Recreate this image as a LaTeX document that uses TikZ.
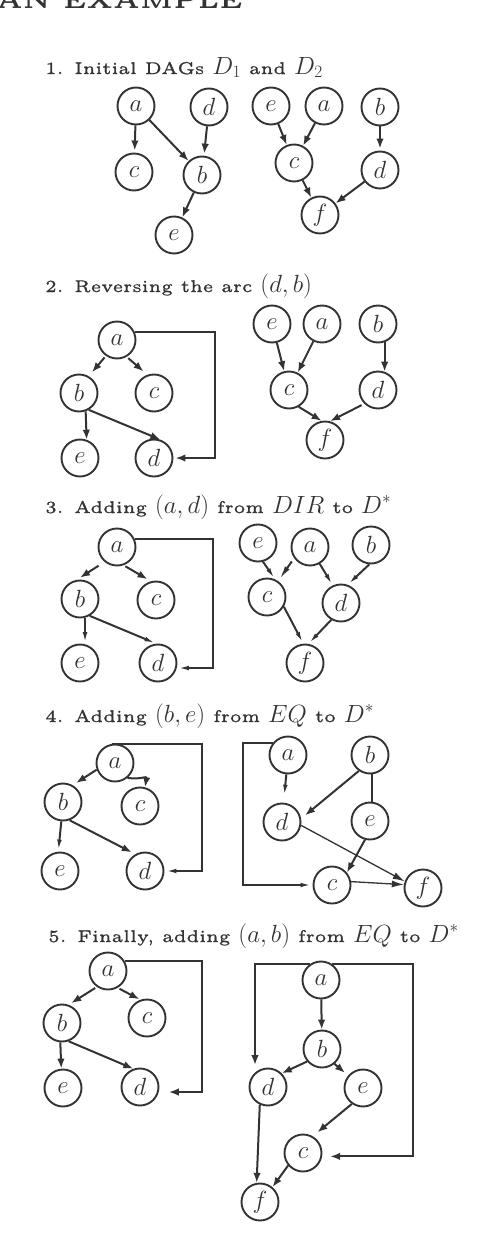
\documentclass[tikz,border=0pt]{standalone}
\usepackage{fontspec}
\usetikzlibrary{arrows.meta}
\newfontfamily\ttlf{lmroman5-regular.otf}[FakeBold=1.1]
\newfontfamily\hdrf{lmroman5-bold.otf}
\definecolor{ink}{HTML}{333333}
\newcommand\mth[1]{{\fontsize{27}{27}\selectfont$#1$}}
\begin{document}
\begin{tikzpicture}[x=1pt,y=-1pt,
  v/.style={circle,draw=ink,line width=1.9pt,minimum size=37pt,inner sep=0pt,text=ink,font=\fontsize{23}{23}\selectfont},
  arr/.style={draw=ink,line width=2pt,-{Latex[length=10pt,width=7.5pt]}},
  tp/.style={draw=ink,line width=2pt,-{Latex[length=12pt,width=4.5pt]}},
  ln/.style={draw=ink,line width=2pt},
  ttl/.style={anchor=base west,inner sep=0pt,text=ink,font=\ttlf\fontsize{17}{19}\selectfont}]
\useasboundingbox[fill=white] (0,0) rectangle (496,1250);
% header
\node[anchor=base west,inner sep=0pt,text=ink,font=\hdrf\fontsize{24}{24}\selectfont] (hdr) at (-4,9) {AN EXAMPLE};
% titles
\node[ttl] (t1) at (45,74) {1. Initial DAGs \mth{D_1} and \mth{D_2}};
\node[ttl] (t2) at (45,292) {2. Reversing the arc \mth{(d,b)}};
\node[ttl] (t3) at (45,513) {3. Adding \mth{(a,d)} from \mth{DIR} to \mth{D^*}};
\node[ttl] (t4) at (45,722) {4. Adding \mth{(b,e)} from \mth{EQ} to \mth{D^*}};
\node[ttl] (t5) at (48,942) {5. Finally, adding \mth{(a,b)} from \mth{EQ} to \mth{D^*}};

% ---------- section 1
\node[v] (a1) at (136,106) {$a$};
\node[v] (d1) at (209,107) {$d$};
\node[v] (c1) at (134,172) {$c$};
\node[v] (b1) at (202,175) {$b$};
\node[v] (e1) at (174,235) {$e$};
\draw[arr,shorten >=2pt] (a1) -- (c1);
\draw[arr] (a1) -- (b1);
\draw[arr,shorten >=2pt] (d1) -- (b1);
\draw[arr] (b1) -- (e1);
\node[v] (e1r) at (271,106) {$e$};
\node[v] (a1r) at (324,106) {$a$};
\node[v] (b1r) at (380,107) {$b$};
\node[v] (c1r) at (294,163) {$c$};
\node[v] (d1r) at (380,170) {$d$};
\node[v] (f1r) at (320,215) {$f$};
\draw[arr] (e1r) -- (c1r);
\draw[arr] (a1r) -- (c1r);
\draw[arr,shorten >=2pt] (b1r) -- (d1r);
\draw[arr] (c1r) -- (f1r);
\draw[arr] (d1r) -- (f1r);

% ---------- section 2
\node[v] (a2) at (117,340) {$a$};
\node[v] (b2) at (79,393) {$b$};
\node[v] (c2) at (154,393) {$c$};
\node[v] (e2) at (80,458) {$e$};
\node[v] (d2) at (154,458) {$d$};
\coordinate (R2) at (215,0);
\draw[arr,shorten <=2pt,shorten >=5pt] (a2.235) -- (b2.60);
\draw[arr,shorten <=2pt,shorten >=5pt] (a2.300) -- (c2.110);
\draw[arr] (b2.290) -- (e2.70);
\draw[arr,shorten >=2pt] (b2.300) -- (d2.65);
\draw[arr,shorten >=2pt] (a2.25) -- (a2.25 -| R2) |- (d2.east);
\node[v] (e2r) at (272,324) {$e$};
\node[v] (a2r) at (322,324) {$a$};
\node[v] (b2r) at (378,324) {$b$};
\node[v] (c2r) at (289,390) {$c$};
\node[v] (d2r) at (378,390) {$d$};
\node[v] (f2r) at (325,440) {$f$};
\draw[arr] (e2r) -- (c2r);
\draw[arr] (a2r) -- (c2r);
\draw[arr] (b2r.290) -- (d2r.70);
\draw[arr] (c2r.300) -- (f2r.100);
\draw[arr,shorten <=3pt] (d2r.225) -- (f2r.75);

% ---------- section 3
\node[v] (a3) at (117,547) {$a$};
\node[v] (b3) at (80,599) {$b$};
\node[v] (c3) at (156,600) {$c$};
\node[v] (e3) at (80,663) {$e$};
\node[v] (d3) at (158,663) {$d$};
\coordinate (R3) at (213,0);
\draw[arr,shorten <=7pt,shorten >=4pt] (a3.230) -- (b3.100);
\draw[arr,shorten <=2pt,shorten >=4pt] (a3.290) -- (c3.105);
\draw[tp] (b3.285) -- (e3.75);
\draw[tp] (b3.300) -- (d3.95);
\draw[tp] (a3.25) -- (a3.25 -| R3) |- (d3.-15);
\node[v] (e3r) at (258,543) {$e$};
\node[v] (a3r) at (310,547) {$a$};
\node[v] (b3r) at (371,545) {$b$};
\node[v] (c3r) at (267,597) {$c$};
\node[v] (d3r) at (341,603) {$d$};
\node[v] (f3r) at (305,663) {$f$};
\draw[tp] (e3r.285) -- (c3r.65);
\draw[draw=ink,line width=2pt,-{Latex[length=14pt,width=5.5pt]},shorten <=4pt,shorten >=2pt] (a3r.215) -- (c3r.55);
\draw[tp] (a3r.300) -- (d3r.115);
\draw[tp] (b3r.265) -- (d3r.70);
\draw[tp] (c3r.330) -- (f3r.95);
\draw[tp] (d3r.240) -- (f3r.80);

% ---------- section 4
\node[v] (a4) at (115,763) {$a$};
\node[v] (b4) at (63,802) {$b$};
\node[v] (c4) at (140,806) {$c$};
\node[v] (e4) at (60,871) {$e$};
\node[v] (d4) at (145,871) {$d$};
\coordinate (R4) at (202,0);
\draw[arr,shorten >=4pt] (a4.200) -- (b4.60);
\draw[arr] (a4.310) .. controls +(14,2) and +(2,-12) .. (c4.75);
\draw[tp] (b4.265) -- (e4.95);
\draw[arr,shorten >=4pt] (b4.290) -- (d4.120);
\draw[tp] (a4.100) -- (a4.100 -| R4) |- (d4.east);
\node[v] (a4r) at (288,755) {$a$};
\node[v] (b4r) at (370,755) {$b$};
\node[v] (d4r) at (282,822) {$d$};
\node[v] (e4r) at (370,821) {$e$};
\node[v] (c4r) at (332,885) {$c$};
\node[v] (f4r) at (423,888) {$f$};
\coordinate (L4) at (243,0);
\draw[tp,shorten >=6pt] (a4r.265) -- (d4r.85);
\draw[arr,shorten >=5pt] (b4r.235) -- (d4r.10);
\draw[ln] (b4r.275) -- (e4r.85);
\draw[arr] (e4r.255) -- (c4r.40);
\draw[draw=ink,line width=1.3pt,-{Latex[length=12pt,width=7pt]}] (d4r.-10) -- (f4r.160);
\draw[draw=ink,line width=1.3pt,-{Latex[length=12pt,width=7pt]}] (c4r.10) -- (f4r.170);
\draw[tp] (a4r.140) -- (a4r.140 -| L4) |- (c4r.west);

% ---------- section 5
\node[v] (a5) at (108,971) {$a$};
\node[v] (b5) at (62,1023) {$b$};
\node[v] (c5) at (147,1018) {$c$};
\node[v] (e5) at (63,1088) {$e$};
\node[v] (d5) at (140,1087) {$d$};
\coordinate (R5) at (202,0);
\draw[arr,shorten <=2pt,shorten >=3pt] (a5.235) -- (b5.70);
\draw[arr,shorten <=2pt,shorten >=1pt] (a5.300) -- (c5.110);
\draw[arr] (b5.265) -- (e5.95);
\draw[arr] (b5.290) -- (d5.110);
\draw[arr,shorten >=10pt] (a5.30) -- (a5.30 -| R5) |- (d5.-15);
\node[v] (a5r) at (321,980) {$a$};
\node[v] (b5r) at (322,1049) {$b$};
\node[v] (d5r) at (268,1087) {$d$};
\node[v] (e5r) at (363,1088) {$e$};
\node[v] (c5r) at (303,1153) {$c$};
\node[v] (f5r) at (260,1202) {$f$};
\coordinate (L5) at (255,0);
\coordinate (R5r) at (413,0);
\draw[arr] (a5r) -- (b5r);
\draw[arr] (b5r.220) -- (d5r.45);
\draw[arr,shorten >=4pt] (b5r.310) -- (e5r.140);
\draw[arr,shorten >=6pt] (e5r.235) -- (c5r.60);
\draw[arr] (c5r.220) -- (f5r.50);
\draw[arr] (d5r.245) -- (f5r.100);
\draw[arr,shorten >=5pt] (a5r.125) -- (a5r.125 -| L5) -- (L5 |- d5r.120);
\draw[arr,shorten >=8pt] (a5r.55) -- (a5r.55 -| R5r) |- (c5r.-10);
\end{tikzpicture}
\end{document}
